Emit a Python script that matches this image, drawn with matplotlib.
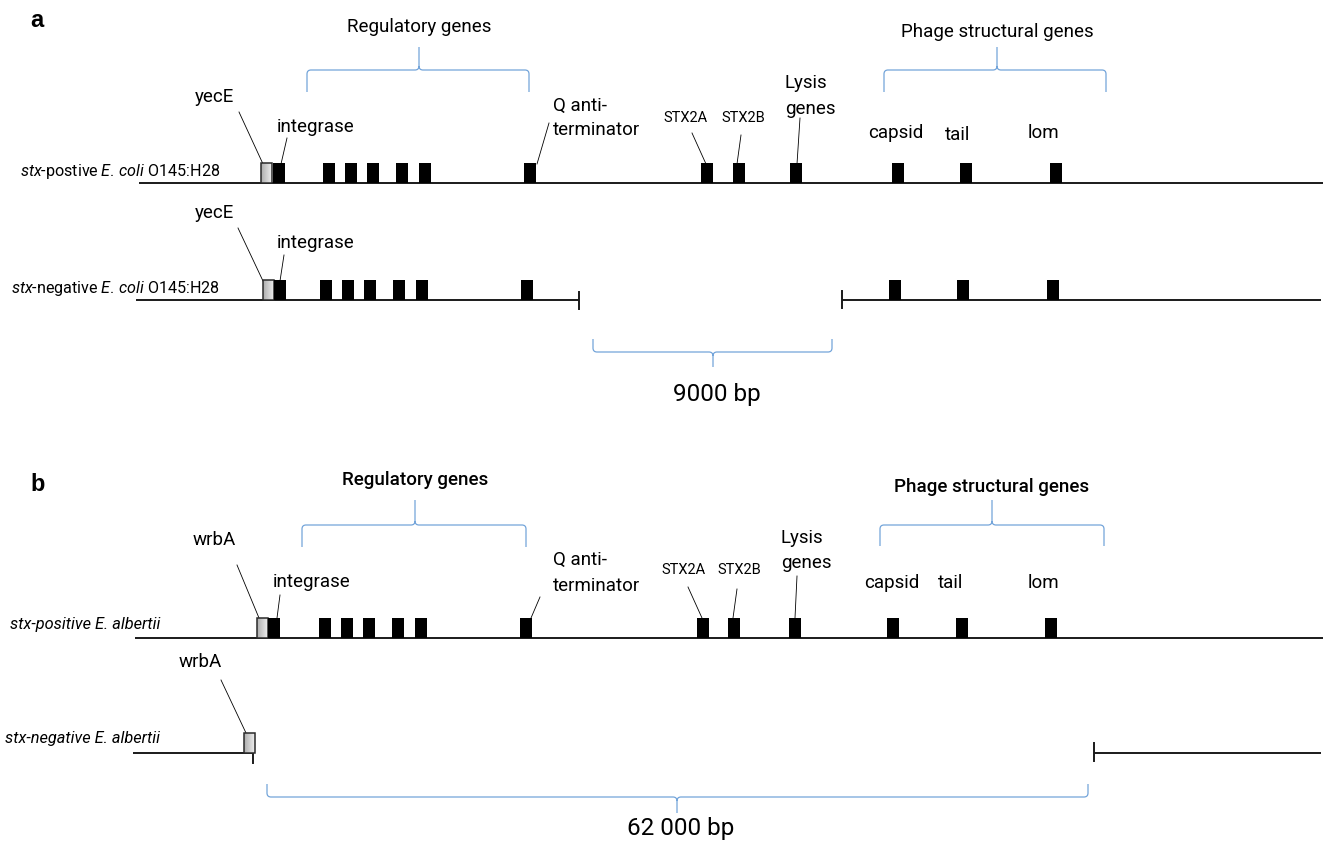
import matplotlib
matplotlib.use("Agg")
import matplotlib.pyplot as plt
from matplotlib.path import Path
from matplotlib.patches import PathPatch, Rectangle
import numpy as np

plt.rcParams['font.family'] = ['Roboto', 'DejaVu Sans']
plt.rcParams['mathtext.fontset'] = 'custom'
plt.rcParams['mathtext.rm'] = 'Roboto'
plt.rcParams['mathtext.it'] = 'Roboto:italic'

# ---- map data (positions along the drawing, in px) ----
track_names = [r"$\it{stx}$-postive$\it{\:E.\,coli}$ O145:H28",
               r"$\it{stx}$-negative$\it{\:E.\,coli}$ O145:H28",
               "stx-positive E. albertii",
               "stx-negative E. albertii"]
track_y = [183, 300, 638, 753]
# backbone segments per track (start, end)
track_segments = [[(139, 1323)],
                  [(136, 579), (842, 1321)],
                  [(135, 1323)],
                  [(133, 253), (1094, 1321)]]
# flanking gene (yecE / wrbA) left edge
flank_x = [261, 263, 257, 244]
# black gene boxes, left edges
genes_a1 = [273, 323, 345, 367, 396, 419, 524, 701, 733, 790, 892, 960, 1050]
genes_a2 = [274, 320, 342, 364, 393, 416, 521, 889, 957, 1047]
genes_b1 = [268, 319, 341, 363, 392, 415, 520, 697, 728, 789, 887, 956, 1045]
genes_b2 = []
track_genes = [genes_a1, genes_a2, genes_b1, genes_b2]

# gene labels: text, x, y, leader line (x0, y0, x1, y1) or None
labels_a1 = [("yecE", 214, 97, (239, 112, 263, 164)),
             ("integrase", 316, 127, (287, 138, 281, 164)),
             ("STX2A", 686, 118, (692, 133, 706, 164)),
             ("STX2B", 743, 118, (741, 135, 737, 164)),
             ("capsid", 896, 133, None),
             ("tail", 958, 135, None),
             ("lom", 1043, 133, None)]
labels_a2 = [("yecE", 214, 213, (238, 228, 263, 281)),
             ("integrase", 316, 243, (284, 255, 280, 281))]
labels_b1 = [("wrbA", 214, 540, (237, 565, 259, 618)),
             ("integrase", 312, 582, (280, 595, 277, 618)),
             ("STX2A", 683, 570, (688, 587, 702, 618)),
             ("STX2B", 739, 570, (737, 589, 733, 618)),
             ("capsid", 892, 583, None),
             ("tail", 951, 583, None),
             ("lom", 1043, 583, None)]
labels_b2 = [("wrbA", 200, 662, (221, 680, 246, 733))]

# two-line labels: first line, second line, left x, y1, y2, leader
multi_a = [("Q anti-", "terminator", 553, 106, 130, (549, 123, 537, 164)),
           ("Lysis", "genes", 785, 83, 109, (800, 118, 797, 164))]
multi_b = [("Q anti-", "terminator", 553, 560, 586, (540, 597, 531, 618)),
           ("Lysis", "genes", 781, 538, 563, (797, 576, 795, 618))]

# braces: x0, x1, xtip, y_arm, y_end, y_tip, label, label_y, bold
braces = [(307, 529, 419, 70, 92, 47, "Regulatory genes", 27, False),
          (884, 1106, 997, 70, 92, 47, "Phage structural genes", 32, False),
          (593, 832, 713, 352, 339, 367, "9000 bp", 394, False),
          (302, 526, 415, 525, 547, 500, "Regulatory genes", 480, True),
          (880, 1104, 992, 525, 546, 500, "Phage structural genes", 487, True),
          (267, 1088, 677, 797, 784, 813, "62 000 bp", 828, False)]

# segment end ticks: x, y_top, y_bottom
end_ticks = [(579, 292, 309), (842, 291, 308), (253, 753, 763), (1094, 743, 761)]

BOX_W = 12
BOX_H = 20
BRACE_COL = '#74a5da'


def draw_brace(ax, x0, x1, xt, ya, ye, yt):
    s = 1 if ye > ya else -1   # ends below arm -> brace opens downward
    r = 4
    v = [(x0, ye), (x0, ya + s * r), (x0, ya), (x0 + r, ya),
         (xt - r, ya), (xt, ya), (xt, ya - s * r), (xt, yt),
         (xt, ya - s * r), (xt, ya), (xt + r, ya),
         (x1 - r, ya), (x1, ya), (x1, ya + s * r), (x1, ye)]
    c = [Path.MOVETO, Path.LINETO, Path.CURVE3, Path.CURVE3,
         Path.LINETO, Path.CURVE3, Path.CURVE3, Path.LINETO,
         Path.MOVETO, Path.CURVE3, Path.CURVE3,
         Path.LINETO, Path.CURVE3, Path.CURVE3, Path.LINETO]
    ax.add_patch(PathPatch(Path(v, c), fill=False, ec=BRACE_COL, lw=0.9))


fig = plt.figure(figsize=(13.25, 8.41), dpi=100)
ax = fig.add_axes([0, 0, 1, 1])

for i, (name, y, segs, fx, genes) in enumerate(zip(track_names, track_y, track_segments,
                                                   flank_x, track_genes)):
    for s0, s1 in segs:
        ax.plot([s0, s1], [y, y], color='#1a1a1a', lw=1.4, solid_capstyle='butt')
    if i < 2:
        ax.text(220, y - 12, name, fontsize=11.6, ha='right', va='center')
    else:
        ax.text(160, y - 14, name, fontsize=11.8, style='italic',
                ha='right', va='center')
    # flanking gene with grey gradient
    grad = np.linspace(0.68, 0.93, 20)[None, :]
    ax.imshow(grad, cmap='gray', vmin=0, vmax=1, aspect='auto',
              extent=[fx, fx + 11, y, y - BOX_H], zorder=3)
    ax.add_patch(Rectangle((fx, y - BOX_H), 11, BOX_H, fill=False,
                           ec='#2a2a2a', lw=1.1, zorder=4))
    for gx in genes:
        ax.add_patch(Rectangle((gx, y - BOX_H), BOX_W, BOX_H,
                               fc='black', ec='none', zorder=4))

for tx, t0, t1 in end_ticks:
    ax.plot([tx, tx], [t0, t1], color='#1a1a1a', lw=1.4)

for labs in [labels_a1, labels_a2, labels_b1, labels_b2]:
    for txt, x, y, ld in labs:
        small = txt.startswith("STX")
        ax.text(x, y, txt, fontsize=10.5 if small else 13.5,
                ha='center', va='center')
        if ld is not None:
            ax.plot([ld[0], ld[2]], [ld[1], ld[3]], color='black', lw=0.6)

for l1, l2, x, y1, y2, ld in multi_a + multi_b:
    ax.text(x, y1, l1, fontsize=13.5, ha='left', va='center')
    ax.text(x, y2, l2, fontsize=13.5, ha='left', va='center')
    ax.plot([ld[0], ld[2]], [ld[1], ld[3]], color='black', lw=0.6)

for x0, x1, xt, ya, ye, yt, lab, ly, bold in braces:
    draw_brace(ax, x0, x1, xt, ya, ye, yt)
    big = lab.endswith("bp")
    ax.text(xt + (4 if big else 0), ly, lab, fontsize=17.5 if big else 13.5,
            ha='center', va='center', fontweight='medium' if bold else 'normal')

ax.text(37, 20, "a", fontsize=17, fontweight='bold', family='Liberation Sans',
        ha='center', va='center')
ax.text(38, 484, "b", fontsize=17, fontweight='bold', family='Liberation Sans',
        ha='center', va='center')

ax.set_xlim(0, 1325)
ax.set_ylim(841, 0)
ax.axis('off')
fig.savefig("out.png", dpi=100)
